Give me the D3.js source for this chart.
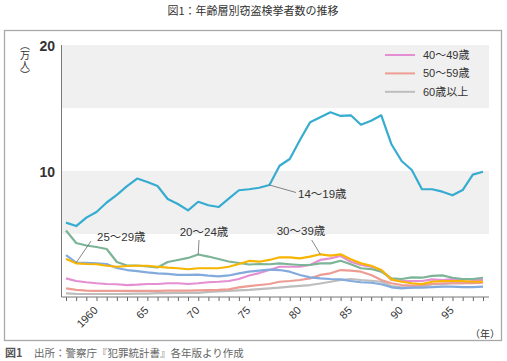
<!DOCTYPE html>
<html>
<head>
<meta charset="utf-8">
<script src="https://cdn.jsdelivr.net/npm/d3@7"></script>
<style>
  body { margin: 0; background: #fff; }
  text { font-family: "Liberation Sans", "Noto Sans CJK JP", sans-serif; fill: #333; }
</style>
</head>
<body>
<div id="chart"></div>
<script>
// Data (万人), 1957-1998
var years = [1957,1958,1959,1960,1961,1962,1963,1964,1965,1966,1967,1968,1969,1970,
             1971,1972,1973,1974,1975,1976,1977,1978,1979,1980,1981,1982,1983,1984,
             1985,1986,1987,1988,1989,1990,1991,1992,1993,1994,1995,1996,1997,1998];
var tickYears = [1960,1965,1970,1975,1980,1985,1990,1995];
var tickNames = ["1960","65","70","75","80","85","90","95"];
var yTicks = [10,20];

var age14_19 = [5.90,5.63,6.30,6.75,7.50,8.10,8.80,9.40,9.13,8.81,7.78,7.38,6.87,7.56,
                7.28,7.14,7.80,8.47,8.55,8.67,8.89,10.42,10.95,12.46,13.87,14.26,14.66,14.37,
                14.42,13.67,13.99,14.42,12.12,10.79,10.08,8.55,8.55,8.36,8.07,8.49,9.71,9.94];
var age20_24 = [5.28,4.29,4.09,3.97,3.81,2.78,2.50,2.50,2.42,2.34,2.78,2.94,3.10,3.37,
                3.21,3.02,2.82,2.70,2.58,2.62,2.60,2.67,2.60,2.54,2.54,2.67,2.67,2.88,
                2.60,2.28,2.22,2.01,1.48,1.43,1.56,1.53,1.67,1.72,1.53,1.43,1.43,1.53];
var age25_29 = [3.33,2.72,2.72,2.67,2.62,2.30,2.14,2.06,1.96,1.88,1.83,1.76,1.75,1.77,
                1.69,1.63,1.71,1.88,2.02,2.10,2.17,2.14,2.01,1.75,1.56,1.48,1.43,1.40,
                1.27,1.17,1.13,1.01,0.77,0.69,0.74,0.74,0.79,0.82,0.82,0.79,0.79,0.82];
var age30_39 = [3.02,2.67,2.62,2.60,2.48,2.40,2.46,2.48,2.48,2.40,2.33,2.28,2.20,2.28,
                2.28,2.28,2.40,2.62,2.86,2.80,2.94,3.15,3.15,3.07,3.20,3.39,3.28,3.39,
                2.99,2.67,2.48,2.14,1.40,1.21,1.09,1.03,1.21,1.27,1.27,1.27,1.21,1.21];
var age40_49 = [1.48,1.27,1.17,1.09,1.03,1.01,0.95,0.98,1.03,1.03,1.09,1.09,1.03,1.09,
                1.17,1.21,1.27,1.43,1.71,1.90,2.14,2.40,2.40,2.40,2.54,2.94,3.07,3.25,
                2.80,2.54,2.40,2.14,1.35,1.27,1.27,1.27,1.40,1.35,1.43,1.43,1.35,1.35];
var age50_59 = [0.69,0.56,0.50,0.49,0.48,0.48,0.48,0.49,0.49,0.49,0.50,0.50,0.51,0.52,
                0.54,0.56,0.61,0.77,0.87,0.95,1.03,1.21,1.27,1.35,1.48,1.75,1.88,2.14,
                2.09,2.01,1.75,1.35,1.09,0.95,0.90,0.95,1.03,1.09,1.09,1.09,1.09,1.13];
var age60up  = [0.28,0.25,0.24,0.24,0.24,0.24,0.25,0.26,0.27,0.30,0.31,0.32,0.32,0.33,
                0.40,0.44,0.48,0.52,0.56,0.63,0.69,0.75,0.82,0.89,0.95,1.07,1.21,1.35,
                1.43,1.35,1.29,1.21,0.87,0.77,0.77,0.82,1.01,1.01,1.09,1.09,1.17,1.21];

var svg = d3.select("#chart").append("svg")
    .attr("width", 507)
    .attr("height", 361);

// Title
svg.append("text")
    .attr("x", 253).attr("y", 10)
    .attr("text-anchor", "middle").attr("dominant-baseline", "central")
    .style("font-size", "11px")
    .style("font-family", "'Noto Sans CJK JP'")
    .text("図1：年齢層別窃盗検挙者数の推移");

// Frame
svg.append("rect")
    .attr("x", 4.5).attr("y", 30.5)
    .attr("width", 497).attr("height", 310)
    .attr("fill", "none").attr("stroke", "#a8a8a8").attr("stroke-width", 1.3);

// Scales
var x = d3.scaleLinear().domain([1957, 1998]).range([66, 483]);
var y = d3.scaleLinear().domain([0, 20]).range([297, 45]);
var left = 61.5, right = 489;

// Gray bands
[[15, 20], [5, 10]].forEach(function (b) {
    svg.append("rect")
        .attr("x", left).attr("y", y(b[1]))
        .attr("width", right - left).attr("height", y(b[0]) - y(b[1]))
        .attr("fill", "#f0f0f0");
});

// Y axis
svg.append("line")
    .attr("x1", left).attr("x2", left)
    .attr("y1", y(20)).attr("y2", y(0))
    .attr("stroke", "#777").attr("stroke-width", 1);
svg.selectAll(".ytick").data(yTicks).enter().append("text")
    .attr("x", 55).attr("y", function (d) { return y(d) + 1; })
    .attr("text-anchor", "end").attr("dominant-baseline", "central")
    .style("font-size", "14px").style("font-weight", "bold")
    .text(function (d) { return d; });

svg.append("text")
    .attr("x", 25).attr("y", 40)
    .style("writing-mode", "vertical-rl")
    .style("font-size", "10px")
    .style("font-family", "'Noto Sans CJK JP'")
    .text("（万人）");

// X axis
var xAxis = svg.append("g")
    .attr("transform", "translate(0," + y(0) + ")")
    .call(d3.axisBottom(x).tickValues(years).tickSize(4).tickFormat(""));
xAxis.select(".domain").remove();
xAxis.selectAll(".tick line").attr("stroke", "#666");
svg.append("line")
    .attr("x1", left).attr("x2", right)
    .attr("y1", y(0)).attr("y2", y(0))
    .attr("stroke", "#777").attr("stroke-width", 1);

svg.selectAll(".xlab").data(tickYears).enter().append("text")
    .attr("transform", function (d) { return "translate(" + (x(d) + 2) + ",311) rotate(-45)"; })
    .attr("text-anchor", "end")
    .style("font-size", "11px")
    .text(function (d, i) { return tickNames[i]; });

svg.append("text")
    .attr("x", 500).attr("y", 333)
    .attr("text-anchor", "end").attr("dominant-baseline", "central")
    .style("font-size", "10px")
    .style("font-family", "'Noto Sans CJK JP'")
    .text("（年）");

// Lines
var series = [
    { values: age60up,  color: "#bdbdbd" },
    { values: age50_59, color: "#ec9c92" },
    { values: age40_49, color: "#e48fd2" },
    { values: age25_29, color: "#82aadd" },
    { values: age20_24, color: "#7cb497" },
    { values: age30_39, color: "#f7b500" },
    { values: age14_19, color: "#36acd0" }
];
var line = d3.line()
    .x(function (d, i) { return x(years[i]); })
    .y(function (d) { return y(d); });

svg.selectAll(".series").data(series).enter().append("path")
    .attr("d", function (s) { return line(s.values); })
    .attr("fill", "none")
    .attr("stroke", function (s) { return s.color; })
    .attr("stroke-width", 2.2)
    .attr("stroke-linejoin", "round");

// Legend
var legendNames = ["40〜49歳", "50〜59歳", "60歳以上"];
var legendColors = ["#e48fd2", "#ec9c92", "#bdbdbd"];
legendNames.forEach(function (n, i) {
    var ly = 55 + i * 18.4;
    svg.append("line")
        .attr("x1", 385).attr("x2", 415).attr("y1", ly).attr("y2", ly)
        .attr("stroke", legendColors[i]).attr("stroke-width", 2);
    svg.append("text")
        .attr("x", 423).attr("y", ly)
        .attr("dominant-baseline", "central")
        .style("font-size", "11px")
        .text(n);
});

// Annotations
function annotate(xv, yv, lx, ly, label, tx, ty, anchor) {
    svg.append("line")
        .attr("x1", xv).attr("y1", yv).attr("x2", lx).attr("y2", ly)
        .attr("stroke", "#555").attr("stroke-width", 0.7);
    svg.append("text")
        .attr("x", tx).attr("y", ty)
        .attr("text-anchor", anchor).attr("dominant-baseline", "central")
        .style("font-size", "11.5px")
        .text(label);
}
annotate(x(1977), y(age14_19[20]), 296, 192.5, "14〜19歳", 298, 194, "start");
annotate(x(1958), y(age25_29[1]), 91, 241, "25〜29歳", 97, 237, "start");
annotate(x(1970), y(age20_24[13]), 199, 240, "20〜24歳", 204, 232, "middle");
annotate(x(1982), y(age30_39[25]), 311.7, 240, "30〜39歳", 301, 231, "middle");

// Footnote
svg.append("text")
    .attr("x", 5).attr("y", 352)
    .attr("dominant-baseline", "central")
    .style("font-size", "11px").style("font-weight", "bold")
    .style("fill", "#555")
    .style("font-family", "'Noto Sans CJK JP'")
    .text("図1");
svg.append("text")
    .attr("x", 34).attr("y", 352)
    .attr("dominant-baseline", "central")
    .style("font-size", "10.5px")
    .style("fill", "#666")
    .style("font-family", "'Noto Sans CJK JP'")
    .text("出所：警察庁『犯罪統計書』各年版より作成");
</script>
</body>
</html>
